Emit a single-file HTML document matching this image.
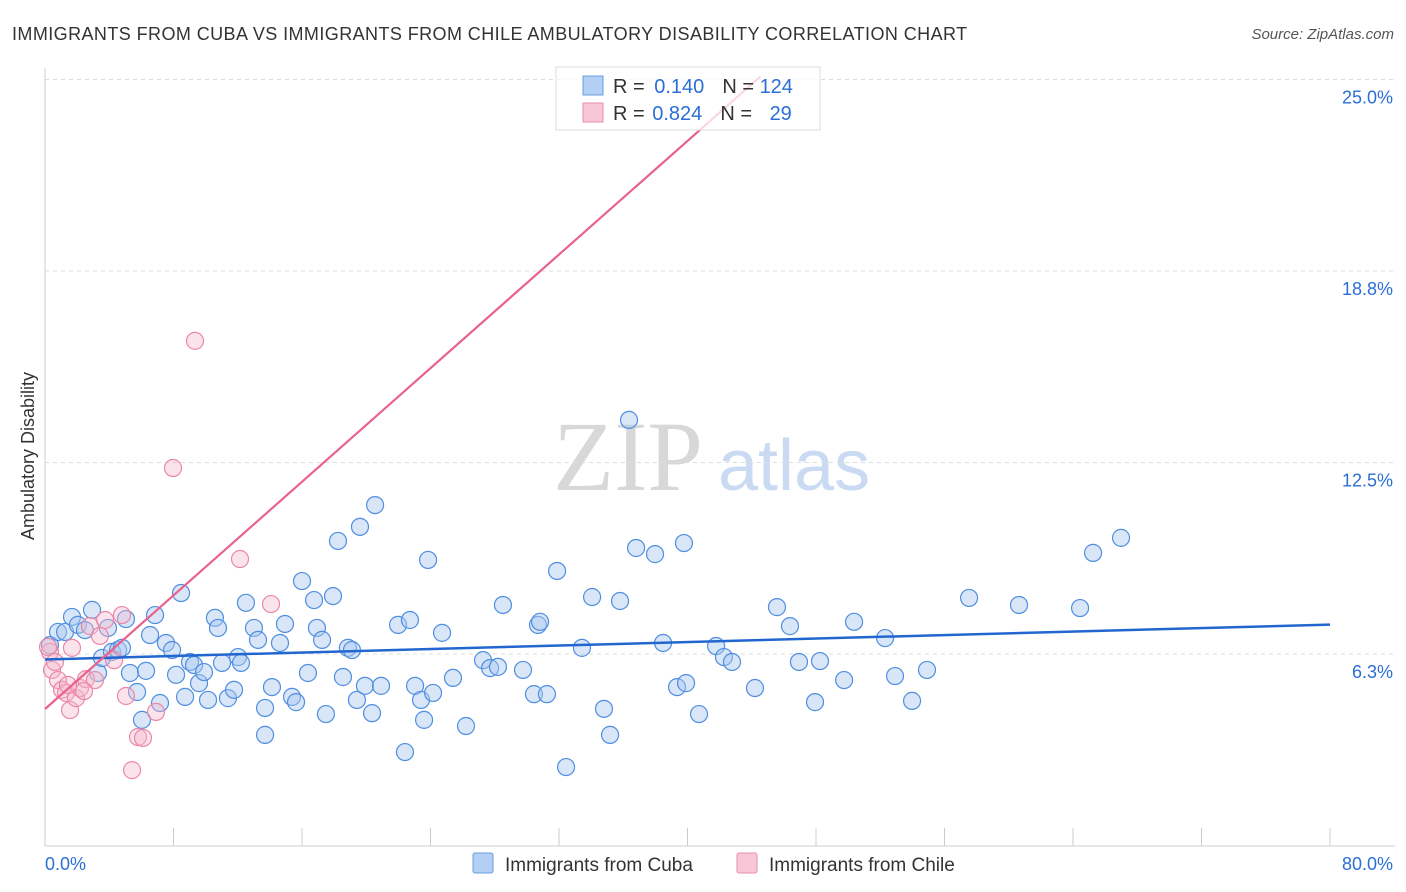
<!DOCTYPE html>
<html><head><meta charset="utf-8">
<style>
body{margin:0;background:#fff;font-family:"Liberation Sans",sans-serif;}
#wrap{position:relative;width:1406px;height:892px;overflow:hidden;}
</style></head>
<body>
<div id="wrap">
<svg id="chart" width="1406" height="892" font-family="Liberation Sans, sans-serif">
  <text x="12" y="40" font-size="18" fill="#333" letter-spacing="0.42">IMMIGRANTS FROM CUBA VS IMMIGRANTS FROM CHILE AMBULATORY DISABILITY CORRELATION CHART</text>
  <text x="1394" y="39" font-size="15" fill="#555" font-style="italic" text-anchor="end">Source: ZipAtlas.com</text>
  <text transform="translate(34,456) rotate(-90)" font-size="18" fill="#333" text-anchor="middle">Ambulatory Disability</text>
  <g>
    <text x="553" y="490" font-size="100" fill="#d8d8d8" style="font-family:'Liberation Serif',serif">ZIP</text>
    <text x="718" y="490" font-size="72" fill="#c9daf2">atlas</text>
  </g>
  <g id="grid"></g>
  <g id="axes"></g>
  <g id="points"></g>
  <g id="trends"></g>
  <g>
    <rect x="556" y="67" width="264" height="63" fill="#fff" fill-opacity="0.75" stroke="#ddd"/>
    <rect x="583" y="76" width="20" height="19" fill="#b3cff3" stroke="#6a9ee0"/>
    <rect x="583" y="103" width="20" height="19" fill="#f8c6d6" stroke="#eb8fae"/>
    <text x="613" y="93" font-size="20" fill="#333">R = <tspan fill="#2b6fd6" dx="4">0.140</tspan><tspan dx="18" fill="#333">N = </tspan><tspan fill="#2b6fd6">124</tspan></text>
    <text x="613" y="120" font-size="20" fill="#333">R = <tspan fill="#2b6fd6" dx="2">0.824</tspan><tspan dx="18" fill="#333">N = </tspan><tspan fill="#2b6fd6" dx="12">29</tspan></text>
  </g>
  <g>
    <rect x="473" y="853" width="20" height="20" rx="2" fill="#b3cff3" stroke="#6a9ee0"/>
    <text x="505" y="871" font-size="19" fill="#333">Immigrants from Cuba</text>
    <rect x="737" y="853" width="20" height="20" rx="2" fill="#f8c6d6" stroke="#eb8fae"/>
    <text x="769" y="871" font-size="19" fill="#333">Immigrants from Chile</text>
  </g>
</svg>
</div>
<script>
const cubaX=[0.31,0.81,1.25,1.68,2.05,2.49,2.93,3.30,3.55,3.92,4.17,4.55,4.79,5.04,5.29,5.73,6.04,6.29,6.54,6.85,7.16,7.53,7.91,8.16,8.47,8.72,9.03,9.28,9.59,9.90,10.15,10.58,10.77,11.02,11.39,11.77,12.02,12.20,12.51,13.01,13.26,13.70,13.70,14.13,14.63,14.94,15.38,15.63,16.00,16.37,16.75,16.93,17.25,17.49,17.93,18.24,18.55,18.86,19.11,19.42,19.61,19.92,20.36,20.55,20.92,21.98,22.41,22.72,23.04,23.41,23.60,23.85,24.16,24.72,25.40,26.21,27.27,27.71,28.20,28.51,29.76,30.44,30.69,30.82,31.25,31.88,32.44,33.43,34.06,34.80,35.18,35.80,36.36,36.80,37.98,38.48,39.35,39.78,39.91,40.72,41.78,42.27,42.77,44.20,45.57,46.38,46.94,47.94,48.25,49.75,50.37,52.30,52.92,53.98,54.91,57.53,60.64,64.44,65.25,66.99];
const cubaY=[6.54,6.97,6.97,7.46,7.20,7.03,7.69,5.63,6.12,7.10,6.32,6.38,6.45,7.39,5.63,5.01,4.10,5.70,6.87,7.52,4.65,6.61,6.38,5.57,8.24,4.85,5.99,5.89,5.30,5.66,4.75,7.43,7.10,5.96,4.81,5.08,6.15,5.96,7.92,7.10,6.71,4.49,3.61,5.17,6.61,7.23,4.85,4.68,8.63,5.63,8.01,7.10,6.71,4.29,8.14,9.94,5.50,6.45,6.38,4.75,10.40,5.21,4.32,11.11,5.21,7.20,3.05,7.36,5.21,4.75,4.10,9.32,4.98,6.94,5.47,3.90,6.05,5.79,5.83,7.85,5.73,4.94,7.20,7.30,4.94,8.96,2.56,6.45,8.11,4.46,3.61,7.98,13.89,9.71,9.51,6.61,5.17,9.87,5.30,4.29,6.51,6.15,5.99,5.14,7.78,7.16,5.99,4.68,6.02,5.40,7.30,6.77,5.53,4.72,5.73,8.08,7.85,7.75,9.55,10.04];
const chileX=[0.31,0.44,0.62,0.81,1.06,1.31,1.56,1.68,1.93,2.18,2.55,2.80,3.11,3.42,3.74,4.30,4.79,5.04,5.42,5.79,6.10,6.91,7.97,9.34,12.14,14.07,2.43,0.19,1.43];
const chileY=[6.32,5.73,5.99,5.40,5.08,4.98,4.42,6.45,4.81,5.14,5.43,7.16,5.40,6.84,7.36,6.05,7.52,4.88,2.46,3.54,3.51,4.36,12.32,16.47,9.35,7.88,5.04,6.48,5.24];
const yTicks=[6.25,12.5,18.75,25];
const yTickLabels=["6.3%","12.5%","18.8%","25.0%"];
const xTicks=[0,8,16,24,32,40,48,56,64,72,80];
const cubaTrend=[6.07,7.21];      // y at x=0 and x=80
const chileTrend=[4.455,0.4635];  // intercept, slope

const NS="http://www.w3.org/2000/svg";
const X0=45,X1=1330,YB=845.5,PPU=30.64;
function sx(v){return X0+v/80*(X1-X0);}
function sy(v){return YB-v*PPU;}
function mk(tag,attrs,parent){const e=document.createElementNS(NS,tag);for(const k in attrs)e.setAttribute(k,attrs[k]);parent.appendChild(e);return e;}

const grid=document.getElementById('grid');
yTicks.forEach((t,i)=>{
  const l=mk('line',{x1:45,x2:1395,y1:sy(t),y2:sy(t),stroke:'#ddd','stroke-dasharray':'4,4'},grid);
  
  
  const tx=mk('text',{x:1393,y:sy(t)+24,'font-size':18,fill:'#2b6fd6','text-anchor':'end'},grid);
  tx.textContent=yTickLabels[i];
  
  
});
const axes=document.getElementById('axes');
const ya=mk('line',{x1:45,x2:45,y1:68,y2:846,stroke:'#ccc'},axes);


const xa=mk('line',{x1:45,x2:1395,y1:846,y2:846,stroke:'#ccc'},axes);


xTicks.forEach(t=>{
  const l=mk('line',{x1:sx(t),x2:sx(t),y1:828,y2:846,stroke:'#ccc'},axes);
  
  
});
const xl0=mk('text',{x:45,y:870,'font-size':18,fill:'#2b6fd6'},axes);
xl0.textContent='0.0%';


const xl1=mk('text',{x:1393,y:870,'font-size':18,fill:'#2b6fd6','text-anchor':'end'},axes);
xl1.textContent='80.0%';



const pts=document.getElementById('points');
cubaX.forEach((x,i)=>{
  const c=mk('circle',{cx:sx(x),cy:sy(cubaY[i]),r:8.5,fill:'#a9c8f0','fill-opacity':0.45,stroke:'#4f8ee0','stroke-width':1.2},pts);
  
  
});
chileX.forEach((x,i)=>{
  const c=mk('circle',{cx:sx(x),cy:sy(chileY[i]),r:8.5,fill:'#f6b9cc','fill-opacity':0.4,stroke:'#ea88a8','stroke-width':1.2},pts);
  
  
});
const tr=document.getElementById('trends');
const bl=mk('line',{x1:sx(0),y1:sy(cubaTrend[0]),x2:sx(80),y2:sy(cubaTrend[1]),stroke:'#2266d0','stroke-width':2.5},tr);


const xEnd=(25.1-chileTrend[0])/chileTrend[1];
const pl=mk('line',{x1:sx(0),y1:sy(chileTrend[0]),x2:sx(xEnd),y2:sy(chileTrend[0]+chileTrend[1]*xEnd),stroke:'#e8628c','stroke-width':2.2},tr);


</script>
</body></html>
